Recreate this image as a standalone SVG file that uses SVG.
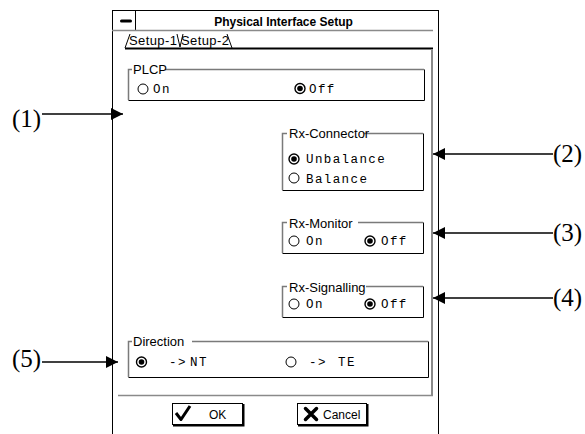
<svg xmlns="http://www.w3.org/2000/svg" width="585" height="434" viewBox="0 0 585 434">
  <style>
    .frame { fill: #fff; stroke: #000; stroke-width: 1; }
    .gb-tl { fill: none; stroke: #7a7a7a; stroke-width: 1.5; }
    .gb-br { fill: none; stroke: #000; stroke-width: 1; }
    .gtitle { font-family: "Liberation Sans", Arial, sans-serif; font-size: 13px; fill: #000; }
    .mono { font-family: "Liberation Mono", "Courier New", monospace; font-size: 12.5px; letter-spacing: 1.4px; fill: #000; }
    .ui { font-family: "Liberation Sans", Arial, sans-serif; font-size: 12px; fill: #000; }
    .title { font-family: "Liberation Sans", Arial, sans-serif; font-size: 12px; font-weight: bold; fill: #000; }
    .tab { font-family: "Liberation Sans", Arial, sans-serif; font-size: 13px; letter-spacing: 0.4px; fill: #000; }
    .radio { fill: #fff; stroke: #000; stroke-width: 1; }
    .radio-on { fill: #fff; stroke: #000; stroke-width: 1.4; }
    .dot { fill: #000; }
    .callout { font-family: "Liberation Serif", "Times New Roman", serif; font-size: 25px; fill: #000; }
    .conn { stroke: #000; stroke-width: 1.5; fill: none; }
  </style>
  <defs>
    <marker id="arrow" viewBox="0 0 12 12" refX="12" refY="6" markerWidth="12" markerHeight="12" markerUnits="userSpaceOnUse" orient="auto">
      <path d="M0,0 L12,6 L0,12 Z" fill="#000"/>
    </marker>
  </defs>

  <!-- dialog window -->
  <g id="window">
    <rect class="frame" x="112.5" y="10.5" width="326" height="430"/>
    <line x1="135.5" y1="10" x2="135.5" y2="30" stroke="#000"/>
    <rect x="120" y="19.5" width="12" height="3" rx="1.5" fill="#000"/>
    <line x1="112" y1="30.5" x2="433" y2="30.5" stroke="#8a8a8a" stroke-width="1.5"/>
    <text class="title" x="283.5" y="26" text-anchor="middle">Physical Interface Setup</text>
  </g>

  <!-- tabs -->
  <g id="tabs">
    <path d="M125,48 L130,34 M177,34 L180,47 L183,34 M227,34 L232,48" stroke="#000" stroke-width="1" fill="none"/>
    <text class="tab" x="129" y="45">Setup-1</text>
    <text class="tab" x="181" y="45">Setup-2</text>
  </g>

  <!-- tab page -->
  <g id="page">
    <line x1="125" y1="48.5" x2="433" y2="48.5" stroke="#000" stroke-width="2"/>
    <line x1="432" y1="49" x2="432" y2="396" stroke="#8a8a8a" stroke-width="2"/>
    <line x1="118" y1="395.5" x2="433" y2="395.5" stroke="#8a8a8a" stroke-width="1.5"/>
  </g>

  <!-- PLCP -->
  <g id="plcp">
    <path class="gb-tl" d="M128.5,100 V69.5 H424"/>
    <path class="gb-br" d="M128.5,100.5 H424.5 V69.5"/>
    <rect x="132" y="63" width="33" height="12" fill="#fff"/>
    <text class="gtitle" x="133" y="74">PLCP</text>
    <circle class="radio" cx="143" cy="89" r="5"/>
    <text class="mono" x="153" y="93">On</text>
    <circle class="radio-on" cx="300" cy="88.5" r="5"/>
    <circle class="dot" cx="300" cy="88.5" r="2.8"/>
    <text class="mono" x="309" y="93">Off</text>
  </g>

  <!-- Rx-Connector -->
  <g id="rx-connector">
    <path class="gb-tl" d="M282.5,190 V133.5 H423"/>
    <path class="gb-br" d="M282.5,190.5 H423.5 V133.5"/>
    <rect x="287" y="127" width="77" height="12" fill="#fff"/>
    <text class="gtitle" x="289" y="138">Rx-Connector</text>
    <circle class="radio-on" cx="294" cy="159" r="5"/>
    <circle class="dot" cx="294" cy="159" r="2.8"/>
    <text class="mono" x="306" y="163">Unbalance</text>
    <circle class="radio" cx="294" cy="178" r="5"/>
    <text class="mono" x="306" y="183">Balance</text>
  </g>

  <!-- Rx-Monitor -->
  <g id="rx-monitor">
    <path class="gb-tl" d="M282.5,253 V222.5 H423"/>
    <path class="gb-br" d="M282.5,253.5 H423.5 V222.5"/>
    <rect x="287" y="216" width="71" height="12" fill="#fff"/>
    <text class="gtitle" x="289" y="228">Rx-Monitor</text>
    <circle class="radio" cx="294" cy="241" r="5"/>
    <text class="mono" x="306" y="245">On</text>
    <circle class="radio-on" cx="370" cy="241" r="5"/>
    <circle class="dot" cx="370" cy="241" r="2.8"/>
    <text class="mono" x="381" y="245">Off</text>
  </g>

  <!-- Rx-Signalling -->
  <g id="rx-signalling">
    <path class="gb-tl" d="M282.5,317 V286.5 H423"/>
    <path class="gb-br" d="M282.5,317.5 H423.5 V286.5"/>
    <rect x="287" y="280" width="79" height="13" fill="#fff"/>
    <text class="gtitle" x="289" y="292">Rx-Signalling</text>
    <circle class="radio" cx="294" cy="304" r="5"/>
    <text class="mono" x="306" y="308">On</text>
    <circle class="radio-on" cx="370" cy="304" r="5"/>
    <circle class="dot" cx="370" cy="304" r="2.8"/>
    <text class="mono" x="381" y="308">Off</text>
  </g>

  <!-- Direction -->
  <g id="direction">
    <path class="gb-tl" d="M128.5,377 V341.5 H428"/>
    <path class="gb-br" d="M128.5,377.5 H428.5 V341.5"/>
    <rect x="132" y="335" width="60" height="12" fill="#fff"/>
    <text class="gtitle" x="133" y="346">Direction</text>
    <circle class="radio-on" cx="141.5" cy="362" r="5"/>
    <circle class="dot" cx="141.5" cy="362" r="2.8"/>
    <text class="mono" y="366"><tspan x="169">-&gt;</tspan><tspan x="190">NT</tspan></text>
    <circle class="radio" cx="291" cy="362" r="5"/>
    <text class="mono" y="366"><tspan x="309">-&gt;</tspan><tspan x="338">TE</tspan></text>
  </g>

  <!-- buttons -->
  <g id="ok-button">
    <rect x="172.5" y="403.5" width="70" height="21" fill="#fff" stroke="#000"/>
    <path d="M243.5,404 V425.5 H173" fill="none" stroke="#000" stroke-width="2"/>
    <path d="M176,413 L181,419.5 L190,406" fill="none" stroke="#000" stroke-width="3" stroke-linejoin="round"/>
    <text class="ui" x="209" y="419">OK</text>
  </g>
  <g id="cancel-button">
    <rect x="297.5" y="403.5" width="69" height="21" fill="#fff" stroke="#000"/>
    <path d="M367.5,404 V425.5 H298" fill="none" stroke="#000" stroke-width="2"/>
    <path d="M305.5,408.5 L316.5,419.5 M316.5,408.5 L305.5,419.5" stroke="#000" stroke-width="3.5" stroke-linecap="round"/>
    <text class="ui" x="323" y="419">Cancel</text>
  </g>

  <!-- callout labels -->
  <g id="label-1"><text class="callout" x="12" y="127">(1)</text></g>
  <g id="label-2"><text class="callout" x="553" y="162">(2)</text></g>
  <g id="label-3"><text class="callout" x="553" y="241">(3)</text></g>
  <g id="label-4"><text class="callout" x="553" y="306">(4)</text></g>
  <g id="label-5"><text class="callout" x="12" y="367">(5)</text></g>

  <!-- callout connectors -->
  <g id="connectors">
    <line class="conn" x1="42" y1="114" x2="123" y2="114" marker-end="url(#arrow)"/>
    <line class="conn" x1="553" y1="154" x2="433" y2="154" marker-end="url(#arrow)"/>
    <line class="conn" x1="553" y1="233" x2="433" y2="233" marker-end="url(#arrow)"/>
    <line class="conn" x1="553" y1="298" x2="433" y2="298" marker-end="url(#arrow)"/>
    <line class="conn" x1="42" y1="362" x2="118" y2="362" marker-end="url(#arrow)"/>
  </g>
</svg>
